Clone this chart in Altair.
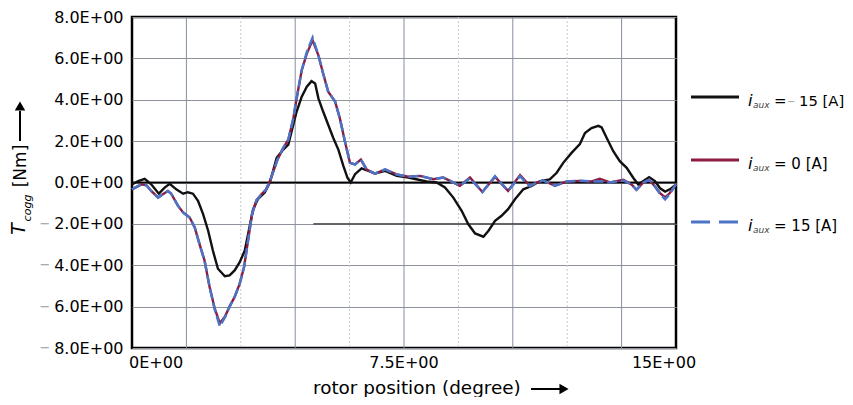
import altair as alt
import pandas as pd

# ---------------- data ----------------
black_x = [0.0, 0.17, 0.35, 0.53, 0.74, 0.90, 1.04, 1.22, 1.41, 1.54, 1.68, 1.82, 1.96, 2.10, 2.23, 2.37,
           2.56, 2.69, 2.83, 2.97, 3.11, 3.22, 3.34, 3.47, 3.66, 3.80, 3.99, 4.17, 4.31, 4.40, 4.54, 4.68,
           4.82, 4.95, 5.05, 5.14, 5.27, 5.41, 5.55, 5.69, 5.83, 5.94, 6.03, 6.15, 6.33, 6.52, 6.70, 6.98,
           7.30, 7.62, 8.12, 8.40, 8.63, 8.86, 9.09, 9.27, 9.46, 9.69, 9.83, 10.01, 10.19, 10.37, 10.56,
           10.79, 11.02, 11.25, 11.52, 11.71, 11.89, 12.12, 12.35, 12.49, 12.67, 12.86, 12.95, 13.09, 13.27,
           13.45, 13.64, 13.82, 13.96, 14.10, 14.26, 14.42, 14.56, 14.70, 14.83, 15.0]
black_y = [-0.10, 0.07, 0.18, -0.09, -0.54, -0.25, -0.06, -0.33, -0.54, -0.47, -0.54, -0.89, -1.53, -2.33,
           -3.29, -4.17, -4.53, -4.49, -4.25, -3.85, -3.29, -2.33, -1.29, -0.81, -0.49, 0.00, 1.19, 1.59,
           1.83, 2.47, 3.43, 4.15, 4.63, 4.90, 4.79, 4.07, 3.43, 2.79, 2.15, 1.59, 0.79, 0.23, 0.00, 0.40,
           0.68, 0.56, 0.43, 0.56, 0.32, 0.24, 0.05, 0.00, -0.24, -0.73, -1.37, -2.01, -2.46, -2.62, -2.33,
           -1.85, -1.61, -1.29, -0.81, -0.33, -0.17, 0.07, 0.15, 0.47, 0.95, 1.43, 1.86, 2.39, 2.63, 2.74,
           2.66, 2.15, 1.51, 1.03, 0.71, 0.23, -0.10, 0.07, 0.26, 0.07, -0.28, -0.44, -0.33, -0.10]

red_x = [0.0, 0.26, 0.40, 0.53, 0.72, 0.85, 0.99, 1.08, 1.27, 1.41, 1.59, 1.73, 1.86, 2.00, 2.14, 2.28,
         2.42, 2.56, 2.69, 2.83, 2.97, 3.09, 3.20, 3.31, 3.43, 3.57, 3.70, 3.82, 4.01, 4.17, 4.31, 4.45,
         4.54, 4.68, 4.82, 4.98, 5.14, 5.27, 5.41, 5.60, 5.73, 5.87, 6.01, 6.15, 6.31, 6.47, 6.70, 6.98,
         7.30, 7.62, 7.94, 8.31, 8.58, 8.77, 9.04, 9.32, 9.66, 10.01, 10.37, 10.70, 10.97, 11.16, 11.34,
         11.66, 11.99, 12.35, 12.67, 12.90, 13.18, 13.55, 13.78, 13.91, 14.10, 14.26, 14.42, 14.56, 14.70,
         14.83, 15.0]
red_y = [-0.33, -0.09, -0.14, -0.41, -0.73, -0.57, -0.41, -0.54, -1.13, -1.45, -1.69, -2.17, -2.97, -3.77,
         -5.05, -6.09, -6.80, -6.49, -6.00, -5.53, -4.89, -4.09, -2.81, -1.53, -0.86, -0.57, -0.33, 0.15,
         1.10, 1.67, 2.07, 3.11, 4.07, 5.43, 6.23, 6.87, 6.15, 5.27, 4.39, 3.91, 3.11, 1.99, 0.95, 0.87,
         1.11, 0.63, 0.43, 0.63, 0.39, 0.28, 0.32, 0.16, 0.24, 0.08, -0.16, 0.24, -0.46, 0.27, -0.40, 0.36,
         -0.16, 0.00, 0.10, -0.16, 0.05, 0.08, 0.05, 0.18, 0.00, 0.13, -0.11, -0.35, 0.00, 0.13, -0.19,
         -0.51, -0.72, -0.51, -0.08]

blue_x = red_x
blue_y = [-0.33, -0.09, -0.14, -0.41, -0.73, -0.57, -0.41, -0.54, -1.13, -1.45, -1.69, -2.17, -2.97, -3.77,
          -5.05, -6.12, -6.95, -6.52, -6.00, -5.53, -4.89, -4.09, -2.81, -1.53, -0.86, -0.57, -0.33, 0.15,
          1.10, 1.67, 2.07, 3.11, 4.07, 5.43, 6.30, 7.00, 6.15, 5.27, 4.39, 3.91, 3.11, 1.99, 0.95, 0.87,
          1.11, 0.63, 0.43, 0.63, 0.39, 0.28, 0.32, 0.16, 0.24, 0.08, -0.16, 0.20, -0.46, 0.30, -0.40, 0.30,
          -0.18, 0.00, 0.10, -0.16, 0.05, 0.08, 0.05, 0.06, 0.00, 0.10, -0.11, -0.35, 0.00, 0.13, -0.19,
          -0.55, -0.82, -0.55, -0.08]

y_ticks = [-8, -6, -4, -2, 0, 2, 4, 6, 8]
x_tick_vals = [0, 7.5, 15]
x_tick_labels = ["0E+00", "7.5E+00", "15E+00"]
grid_major = [1.5, 4.5, 7.5, 10.5, 13.5]
grid_minor = [3, 6, 9, 12]

series_names = ["m15", "zero", "p15"]

# ---------------- build tables ----------------
def table(xs, ys, name):
    return pd.DataFrame({"pos": xs, "T": ys, "series": name})

df_black = table(black_x, black_y, series_names[0])
df_red = table(red_x, red_y, series_names[1])
df_blue = table(blue_x, blue_y, series_names[2])

# layout (page pixels): plot area left=132, top=17
LEFT, TOP = 132, 17
W, H = 544, 331
PAD_L, PAD_T = LEFT - 8, TOP - 8


def px(v):
    return v - LEFT


def py(v):
    return v - TOP


FONT = "DejaVu Sans"
xs = alt.Scale(domain=[0, 15], nice=False, zero=False)
ys = alt.Scale(domain=[-8, 8], nice=False, zero=False)

yaxis = alt.Axis(values=y_ticks, labelExpr="format(abs(datum.value), '.1f') + 'E+00'",
                 grid=True, gridColor="#8d929b", gridWidth=1, domain=False, ticks=False,
                 labelPadding=9, labelFont=FONT, labelFontSize=16, labelColor="black", title=None)


def X(f="pos:Q"):
    return alt.X(f, scale=xs, axis=None)


def Y(f="T:Q"):
    return alt.Y(f, scale=ys, axis=yaxis)


one = pd.DataFrame({"a": [0]})


def txt(text, x, y, size, **kw):
    return alt.Chart(one).mark_text(text=text, font=FONT, fontSize=size, **kw).encode(
        x=alt.value(px(x)), y=alt.value(py(y)))


layers = []

# horizontal grid via the y axis (rule at zero carries the axis)
layers.append(alt.Chart(pd.DataFrame({"T": [0]})).mark_rule(color="black", strokeWidth=1.5).encode(y=Y()))

# vertical grid
layers.append(alt.Chart(pd.DataFrame({"pos": grid_major})).mark_rule(color="#858e9e", strokeWidth=1).encode(x=X()))
layers.append(alt.Chart(pd.DataFrame({"pos": grid_minor})).mark_rule(color="#c3c7cf", strokeWidth=1, strokeDash=[2, 2]).encode(x=X()))

# darker segment on the -2 grid line
layers.append(alt.Chart(pd.DataFrame({"pos": [5.0], "pos2": [15.0], "T": [-2]})).mark_rule(color="#333333", strokeWidth=1.3)
              .encode(x=X(), x2="pos2:Q", y=Y()))

# zero line on top of grids
layers.append(alt.Chart(pd.DataFrame({"T": [0]})).mark_rule(color="black", strokeWidth=1.5).encode(y=Y()))

# curves
layers.append(alt.Chart(df_black).mark_line(color="#111111", strokeWidth=2.4).encode(x=X(), y=Y(), order="pos:Q"))
layers.append(alt.Chart(df_red).mark_line(color="#8c1d40", strokeWidth=2.4).encode(x=X(), y=Y(), order="pos:Q"))
layers.append(alt.Chart(df_blue).mark_line(color="#4b74c6", strokeWidth=2.5, strokeDash=[10, 4]).encode(x=X(), y=Y(), order="pos:Q"))

# gray minus signs on negative y labels
neg = pd.DataFrame({"T": [v for v in y_ticks if v < 0]})
layers.append(alt.Chart(neg).mark_text(text="\u2212", font=FONT, fontSize=13, color="#9a9a9a", align="center", baseline="middle")
              .encode(x=alt.value(px(45)), y=Y()))

# x tick labels
x_lab = pd.DataFrame({"pos": x_tick_vals, "lab": x_tick_labels})
aligns = [("left", -3), ("center", 0), ("center", -12)]
for i, (al, dx) in enumerate(aligns):
    layers.append(alt.Chart(x_lab.iloc[[i]]).mark_text(font=FONT, fontSize=16, color="black", align=al, dx=dx, baseline="middle")
                  .encode(x=X(), y=alt.value(py(363)), text="lab:N"))

# x title
layers.append(txt("rotor position (degree)", 313, 394, 18.4, color="black", align="left", baseline="alphabetic"))
layers.append(alt.Chart(one).mark_rule(color="black", strokeWidth=2)
              .encode(x=alt.value(px(531)), x2=alt.value(px(560)), y=alt.value(py(389))))
layers.append(alt.Chart(one).mark_point(shape="triangle-right", filled=True, size=110, color="black", opacity=1)
              .encode(x=alt.value(px(564)), y=alt.value(py(389))))

# y title
layers.append(txt("T", 19, 229, 19, fontStyle="italic", color="black", angle=270, align="center", baseline="middle"))
layers.append(txt("cogg", 28, 208, 11, fontStyle="italic", color="black", angle=270, align="center", baseline="middle"))
layers.append(txt("[Nm]", 21, 166, 17, color="black", angle=270, align="center", baseline="middle"))
layers.append(alt.Chart(one).mark_rule(color="black", strokeWidth=2)
              .encode(x=alt.value(px(20)), y=alt.value(py(111)), y2=alt.value(py(141))))
layers.append(alt.Chart(one).mark_point(shape="triangle-up", filled=True, size=110, color="black", opacity=1)
              .encode(x=alt.value(px(20)), y=alt.value(py(106))))

# legend
leg_y = [97, 160, 222]
leg_col = ["#111111", "#8c1d40", "#4b74c6"]
leg_dash = [[1, 0], [1, 0], [19, 9]]
leg_txt = ["15 [A]", "= 0 [A]", "= 15 [A]"]
for i in range(3):
    ly = leg_y[i]
    layers.append(alt.Chart(one).mark_rule(color=leg_col[i], strokeWidth=3, strokeDash=leg_dash[i])
                  .encode(x=alt.value(px(691)), x2=alt.value(px(739)), y=alt.value(py(ly))))
    layers.append(txt("i", 748, ly + 9, 16.5, fontStyle="italic", color="black", align="left", baseline="alphabetic"))
    layers.append(txt("aux", 753, ly + 11, 9, fontStyle="italic", color="#444444", align="left", baseline="alphabetic"))
    if i == 0:
        layers.append(txt("=", 774, ly + 9, 15, color="black", align="left", baseline="alphabetic"))
        layers.append(txt("\u2212", 787, ly + 8, 10, color="#9a9a9a", align="left", baseline="alphabetic"))
        layers.append(txt(leg_txt[i], 799, ly + 9, 14.8, color="black", align="left", baseline="alphabetic"))
    else:
        layers.append(txt(leg_txt[i], 774, ly + 9, 15, color="black", align="left", baseline="alphabetic"))

chart = alt.layer(*layers).properties(
    width=W, height=H,
    autosize=alt.AutoSizeParams(type="none"),
    padding={"left": PAD_L, "top": PAD_T, "right": 169, "bottom": 49},
    background="white",
).configure_view(stroke="black", strokeWidth=2.5)

chart.save("out.html", embed_options={"renderer": "svg", "actions": False})
